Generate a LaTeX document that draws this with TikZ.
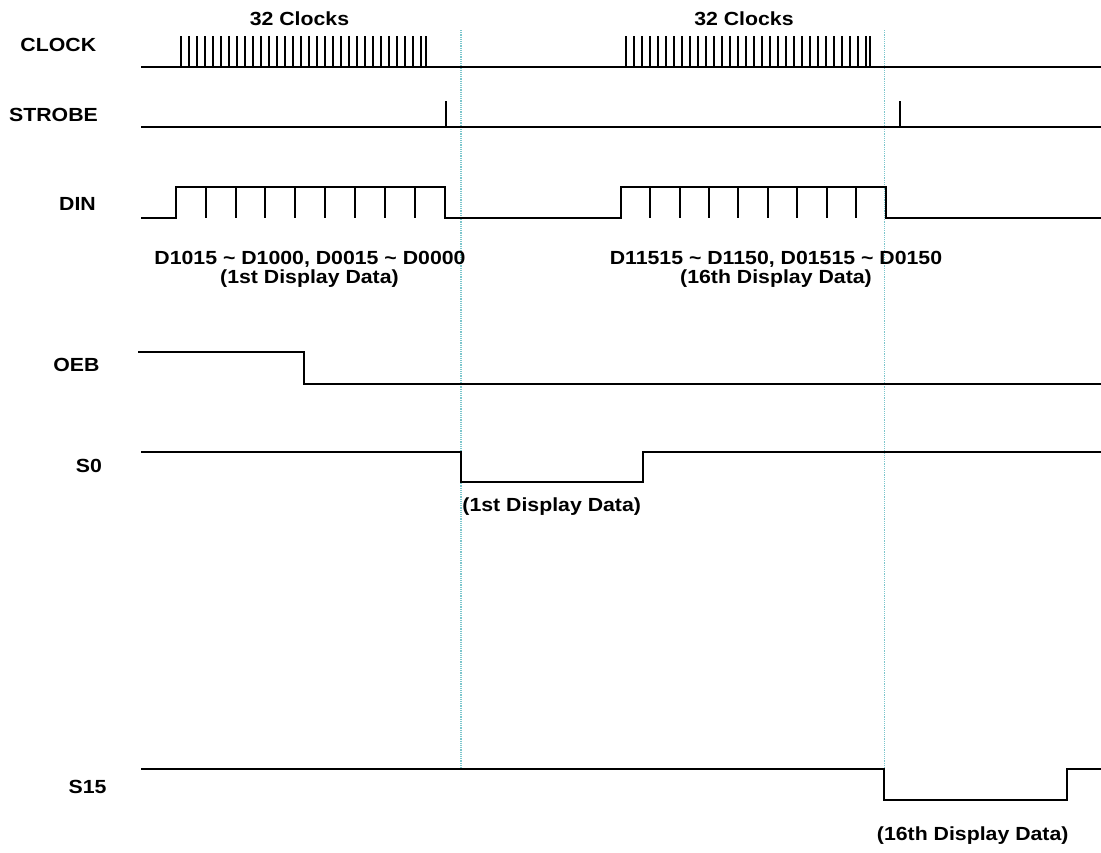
\documentclass[tikz,border=0pt]{standalone}
\usepackage{fontspec}
\newfontfamily\lblfont{Liberation Sans}[FakeStretch=1.12]
\usetikzlibrary{positioning, calc}
\usepackage{xcolor}
\definecolor{xcyan}{HTML}{7CC6CC}
\tikzset{
	wave/.style={line width=2pt, line join=miter},
	clkpulse/.style={line width=1.8pt},
	guide/.style={xcyan, line width=1.2pt, densely dotted},
	signame/.style={font=\lblfont\bfseries\fontsize{19}{21}\selectfont, inner sep=0pt, anchor=base},
}

\begin{document}
\begin{tikzpicture}[x=1pt, y=-1pt]
		\useasboundingbox (0,0) rectangle (1101,852);
		\coordinate (L) at (141,0);
		\coordinate (R) at (1101,0);
		\coordinate (T1) at (461,0);
		\coordinate (T2) at (884.3,0);

		% latch instants
		\draw[guide] ($(T1)+(0,30)$) -- ($(T1)+(0,769.3)$);
		\draw[guide] ($(T2)+(0,30)$) -- ($(T2)+(0,769.3)$);

		% signal names
		\node[signame] (clock) at (58.3,51.7) {CLOCK};
		\node[signame] (strobe) at (53.5,121.7) {STROBE};
		\node[signame] (din) at (77.5,210) {DIN};
		\node[signame] (oeb) at (76.5,371.7) {OEB};
		\node[signame] (s0) at (89,472) {S0};
		\node[signame] (s15) at (87.5,793) {S15};

		% CLOCK
		\draw[wave] (141,66.7) -- (1101,66.7);
		\foreach \x in {0,...,30} {
			\draw[clkpulse] (180.7+8*\x,66.7) -- ++(0,-31);
			\draw[clkpulse] (625.7+8*\x,66.7) -- ++(0,-31);
		}
		\draw[clkpulse] (425.7,66.7) -- ++(0,-31);
		\draw[clkpulse] (869.7,66.7) -- ++(0,-31);
		\node[signame] (clk1) at (299.5,25) {32 Clocks};
		\node[signame] (clk2) at (744,25) {32 Clocks};

		% STROBE
		\draw[wave] (141,127) -- (1101,127);
		\draw[clkpulse] (446,127) -- ++(0,-26);
		\draw[clkpulse] (900,127) -- ++(0,-26);

		% DIN
		\draw[wave] (141,217.5) -- (175.7,217.5) -- (175.7,187.3) -- (445,187.3) -- (445,217.5) -- (620.7,217.5) -- (620.7,187.3) -- (885.7,187.3) -- (885.7,217.5) -- (1101,217.5);
		\foreach \i in {1,...,8} {
			\draw[wave] (175.7+29.92*\i,187.3) -- ++(0,30.2);
			\draw[wave] (620.7+29.44*\i,187.3) -- ++(0,30.2);
		}
		\node[signame] (data1) at (310,264) {D1015 \textasciitilde{} D1000, D0015 \textasciitilde{} D0000};
		\node[signame] (data1b) at (309.5,283.3) {(1st Display Data)};
		\node[signame] (data2) at (776,264) {D11515 \textasciitilde{} D1150, D01515 \textasciitilde{} D0150};
		\node[signame] (data2b) at (776,283.3) {(16th Display Data)};

		% OEB
		\draw[wave] (138,351.7) -- (304.3,351.7) -- (304.3,383.7) -- (1101,383.7);

		% S0
		\draw[wave] (141,452) -- (461,452) -- (461,481.7) -- (642.7,481.7) -- (642.7,452) -- (1101,452);
		\node[signame] (s0data) at (551.7,511.7) {(1st Display Data)};

		% S15
		\draw[wave] (141,769.3) -- (884.3,769.3) -- (884.3,800) -- (1066.7,800) -- (1066.7,769.3) -- (1101,769.3);
		\node[signame] (s15data) at (972.7,840) {(16th Display Data)};
	\end{tikzpicture}
\end{document}
